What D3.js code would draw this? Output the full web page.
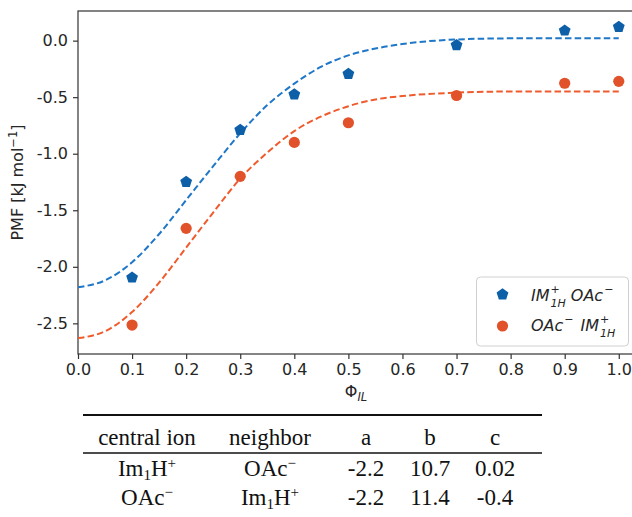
<!DOCTYPE html>
<html>
<head>
<meta charset="utf-8">
<script src="https://cdn.jsdelivr.net/npm/d3@7"></script>
<style>
  body { margin: 0; background: #fff; }
  svg { display: block; }
</style>
</head>
<body>
<svg id="chart" width="632" height="517"></svg>
<script>
// measured points
const phi = [0.1, 0.2, 0.3, 0.4, 0.5, 0.7, 0.9, 1.0];
const pmfIm = [-2.09, -1.245, -0.785, -0.47, -0.29, -0.035, 0.094, 0.126];
const pmfOac = [-2.515, -1.66, -1.20, -0.90, -0.726, -0.485, -0.377, -0.36];

// fitted curves
const fitPhi = [0, 0.05, 0.1, 0.15, 0.2, 0.25, 0.3, 0.35, 0.4, 0.45, 0.5, 0.55, 0.6, 0.7, 0.8, 0.9, 1.0];
const fitIm = [-2.18, -2.12, -1.96, -1.71, -1.41, -1.11, -0.82, -0.57, -0.38, -0.23, -0.13, -0.07, -0.03, 0.01, 0.02, 0.02, 0.02];
const fitOac = [-2.63, -2.57, -2.40, -2.14, -1.83, -1.52, -1.22, -0.99, -0.80, -0.67, -0.58, -0.52, -0.49, -0.46, -0.45, -0.45, -0.45];

const xTicks = [0, 0.1, 0.2, 0.3, 0.4, 0.5, 0.6, 0.7, 0.8, 0.9, 1.0];
const yTicks = [-2.5, -2.0, -1.5, -1.0, -0.5, 0.0];

// fit parameter table
const tableHead = ["central ion", "neighbor", "a", "b", "c"];
const paramA = ["-2.2", "-2.2"];
const paramB = ["10.7", "11.4"];
const paramC = ["0.02", "-0.4"];

const BLUE = "#0d5fa8", BLUE_LINE = "#1f77c8";
const ORANGE = "#e2522a", ORANGE_LINE = "#ef5b2c";
const AXIS = "#333";
const FONT = "'DejaVu Sans', sans-serif";
const FS = 16;

const svg = d3.select("#chart");
const plotL = 78, plotT = 11, plotB = 354, plotR = 635;

const x = d3.scaleLinear().domain([0, 1.03]).range([plotL, plotR]);
const y = d3.scaleLinear().domain([-2.771, 0.262]).range([plotB, plotT]);

// axes
const xAxis = svg.append("g")
  .attr("transform", `translate(0,${plotB})`)
  .call(d3.axisBottom(x).tickValues(xTicks).tickFormat(d => d.toFixed(1))
    .tickSize(5).tickPadding(5).tickSizeOuter(0));
const yAxis = svg.append("g")
  .attr("transform", `translate(${plotL},0)`)
  .call(d3.axisLeft(y).tickValues(yTicks).tickFormat(d => d.toFixed(1))
    .tickSize(5).tickPadding(5).tickSizeOuter(0));

[xAxis, yAxis].forEach(g => {
  g.select(".domain").remove();
  g.selectAll("line").attr("stroke", AXIS).attr("stroke-width", 1.2);
  g.selectAll("text").attr("fill", "#262626")
    .style("font-family", FONT).style("font-size", FS + "px");
});

// spines
svg.append("rect")
  .attr("x", plotL).attr("y", plotT)
  .attr("width", plotR - plotL).attr("height", plotB - plotT)
  .attr("fill", "none").attr("stroke", AXIS).attr("stroke-width", 1.2);

// fit lines
const line = d3.line().curve(d3.curveMonotoneX);
[[fitIm, BLUE_LINE], [fitOac, ORANGE_LINE]].forEach(([vals, col]) => {
  svg.append("path")
    .attr("d", line(fitPhi.map((p, i) => [x(p), y(vals[i])])))
    .attr("fill", "none")
    .attr("stroke", col)
    .attr("stroke-width", 2)
    .attr("stroke-dasharray", "6.5,3.2");
});

// markers
const pentagon = (r) => {
  const pts = d3.range(5).map(k => {
    const a = -Math.PI / 2 + k * 2 * Math.PI / 5;
    return [r * Math.cos(a), r * Math.sin(a)];
  });
  return "M" + pts.join("L") + "Z";
};

svg.append("g").selectAll("path")
  .data(phi)
  .join("path")
  .attr("d", pentagon(6.2))
  .attr("transform", (d, i) => `translate(${x(d)},${y(pmfIm[i]) + 0.6})`)
  .attr("fill", BLUE);

svg.append("g").selectAll("circle")
  .data(phi)
  .join("circle")
  .attr("cx", d => x(d))
  .attr("cy", (d, i) => y(pmfOac[i]))
  .attr("r", 5.6)
  .attr("fill", ORANGE);

// axis labels
const xl = svg.append("text")
  .attr("x", 356).attr("y", 397)
  .attr("text-anchor", "middle")
  .style("font-family", FONT).style("font-size", FS + "px").attr("fill", "#262626");
xl.append("tspan").text("Φ");
xl.append("tspan").attr("dy", 4).style("font-size", "11.5px").style("font-style", "italic").text("IL");

const yl = svg.append("text")
  .attr("transform", `translate(23,${(plotT + plotB) / 2}) rotate(-90)`)
  .attr("text-anchor", "middle")
  .style("font-family", FONT).style("font-size", FS + "px").attr("fill", "#262626");
yl.append("tspan").text("PMF [kJ mol");
yl.append("tspan").attr("dy", -6).style("font-size", "11.5px").text("−1");
yl.append("tspan").attr("dy", 6).text("]");

// legend
const leg = svg.append("g");
leg.append("rect")
  .attr("x", 476.5).attr("y", 277).attr("width", 152).attr("height", 69)
  .attr("rx", 4).attr("fill", "#fff").attr("fill-opacity", 0.8)
  .attr("stroke", "#d0d0d0").attr("stroke-width", 1);
leg.append("path").attr("d", pentagon(6.2))
  .attr("transform", "translate(502.5,294.5)").attr("fill", BLUE);
leg.append("circle").attr("cx", 502.5).attr("cy", 326).attr("r", 5.6).attr("fill", ORANGE);

// mathtext-like label: one text, tspans placed piece by piece, sup/sub stacked
function mathLabel(g, x0, y0, parts) {
  const t = g.append("text").attr("x", x0).attr("y", y0)
    .style("font-family", FONT).style("font-style", "italic")
    .style("font-size", FS + "px").attr("fill", "#262626");
  let cx = x0;
  parts.forEach(p => {
    if (p.gap) cx += p.gap;
    else if (p.t) {
      const s = t.append("tspan").attr("x", cx).attr("y", y0).text(p.t);
      cx += s.node().getComputedTextLength();
    } else {
      const s1 = t.append("tspan").attr("x", cx + 1).attr("y", y0 - 8)
        .style("font-size", "11px").text(p.sup);
      let w = s1.node().getComputedTextLength();
      if (p.sub) {
        const s2 = t.append("tspan").attr("x", cx + 1).attr("y", y0 + 5.5)
          .style("font-size", "11px").text(p.sub);
        w = Math.max(w, s2.node().getComputedTextLength());
      }
      cx += w + 2;
    }
  });
}
mathLabel(leg, 531, 301, [{t: "IM"}, {sup: "+", sub: "1H"}, {gap: 4}, {t: "OAc"}, {sup: "−"}]);
mathLabel(leg, 531, 331, [{t: "OAc"}, {sup: "−"}, {gap: 6}, {t: "IM"}, {sup: "+", sub: "1H"}]);

// table below the chart
const colX = [147, 270, 366, 430, 495];
const SERIF = "'Liberation Serif', 'Times New Roman', serif";
const tbl = svg.append("g").style("font-family", SERIF).style("font-size", "23px").attr("fill", "#111");

tbl.append("line").attr("x1", 83).attr("x2", 542).attr("y1", 415).attr("y2", 415)
  .attr("stroke", "#111").attr("stroke-width", 2);
tbl.append("line").attr("x1", 83).attr("x2", 542).attr("y1", 453).attr("y2", 453)
  .attr("stroke", "#111").attr("stroke-width", 1.4);

tableHead.forEach((h, i) => {
  tbl.append("text").attr("x", colX[i]).attr("y", 445).attr("text-anchor", "middle").text(h);
});

const ionCell = (g, cx, cy, kind) => {
  const t = g.append("text").attr("x", cx).attr("y", cy).attr("text-anchor", "middle");
  if (kind === "im") {
    t.append("tspan").text("Im");
    t.append("tspan").attr("dy", 4).style("font-size", "15px").text("1");
    t.append("tspan").attr("dy", -4).text("H");
    t.append("tspan").attr("dy", -8).style("font-size", "15px").text("+");
  } else {
    t.append("tspan").text("OAc");
    t.append("tspan").attr("dy", -8).style("font-size", "15px").text("−");
  }
};

const rowY = [476, 505];
const centralIon = ["im", "oac"];
const neighborIon = ["oac", "im"];
rowY.forEach((ry, r) => {
  ionCell(tbl, colX[0], ry, centralIon[r]);
  ionCell(tbl, colX[1], ry, neighborIon[r]);
  [paramA, paramB, paramC].forEach((col, j) => {
    tbl.append("text").attr("x", colX[2 + j]).attr("y", ry).attr("text-anchor", "middle").text(col[r]);
  });
});
</script>
</body>
</html>
